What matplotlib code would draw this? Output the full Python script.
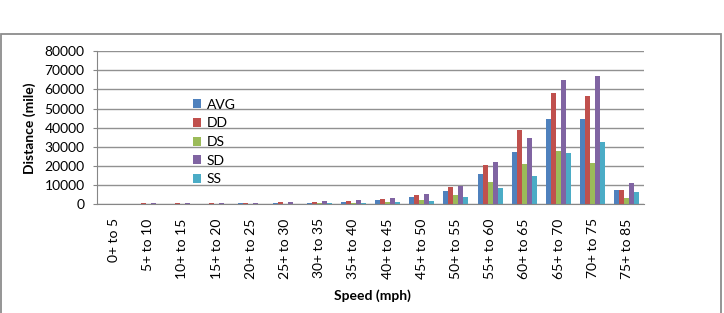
import numpy as np
import matplotlib
matplotlib.use('Agg')
import matplotlib.pyplot as plt
from matplotlib.patches import Rectangle

# speed bins and distance per group (miles)
speed_bins = ['0+ to 5', '5+ to 10', '10+ to 15', '15+ to 20', '20+ to 25', '25+ to 30',
              '30+ to 35', '35+ to 40', '40+ to 45', '45+ to 50', '50+ to 55', '55+ to 60',
              '60+ to 65', '65+ to 70', '70+ to 75', '75+ to 85']
avg = [100, 300, 300, 400, 500, 700, 900, 1100, 2100, 3700, 6900, 15800, 27300, 44400, 44400, 7300]
dd = [100, 500, 500, 600, 700, 1000, 1300, 1800, 2800, 4700, 9200, 20600, 38900, 58300, 56400, 7600]
ds = [50, 200, 200, 200, 300, 400, 500, 900, 1200, 2200, 4800, 11500, 21000, 27700, 21400, 3300]
sd = [100, 500, 600, 700, 800, 1100, 1600, 2100, 3100, 5200, 9800, 22200, 34400, 64900, 66800, 11300]
ss = [50, 200, 200, 200, 300, 300, 500, 600, 1200, 1900, 3800, 8400, 14800, 27000, 32700, 6600]

series = [('AVG', avg, '#4F81BD'), ('DD', dd, '#C0504D'), ('DS', ds, '#9BBB59'),
          ('SD', sd, '#8064A2'), ('SS', ss, '#4BACC6')]

plt.rcParams['font.family'] = ['Lato', 'DejaVu Sans']
fs = 10

fig = plt.figure(figsize=(7.24, 3.13), dpi=100)
ax = fig.add_axes([0.134, 0.347, 0.7555, 0.490])

x = np.arange(len(speed_bins))
w = 0.146
for i, (name, vals, col) in enumerate(series):
    ax.bar(x + (i - 2) * w, vals, width=w, color=col, label=name, zorder=2)

ax.set_xlim(-0.5, len(speed_bins) - 0.5)
ax.set_ylim(0, 80000)
ax.set_yticks(range(0, 80001, 10000))
ax.set_yticklabels([str(v) for v in range(0, 80001, 10000)], fontsize=fs)
ax.set_xticks(x)
ax.set_xticklabels(speed_bins, rotation=90, fontsize=fs, va='top')
ax.tick_params(axis='x', length=0, pad=10)
ax.tick_params(axis='y', length=3, color='#868686', pad=6)
ax.yaxis.grid(True, color='#919191', linewidth=1.0, zorder=0)
ax.set_axisbelow(True)
for s in ['top', 'right']:
    ax.spines[s].set_visible(False)
ax.spines['left'].set_color('#868686')
ax.spines['bottom'].set_color('#868686')

ax.legend(loc='center left', bbox_to_anchor=(0.175, 0.406), frameon=False, fontsize=fs,
          handlelength=0.6, handleheight=0.6, handletextpad=0.4, labelspacing=0.48,
          borderpad=0, borderaxespad=0)

fig.text(30 / 724, 1 - 128 / 313, 'Distance (mile)', rotation=90, ha='center', va='center',
         fontsize=fs, fontweight='bold')
fig.text(372 / 724, 1 - 296 / 313, 'Speed (mph)', ha='center', va='center',
         fontsize=fs, fontweight='bold')

# outer chart border
fig.patches.append(Rectangle((0.5 / 724, -0.05), 720.5 / 724, (313 - 34) / 313 + 0.05,
                             transform=fig.transFigure, fill=False, edgecolor='#8c8c8c',
                             linewidth=1.3))

fig.savefig('out.png', dpi=100)
